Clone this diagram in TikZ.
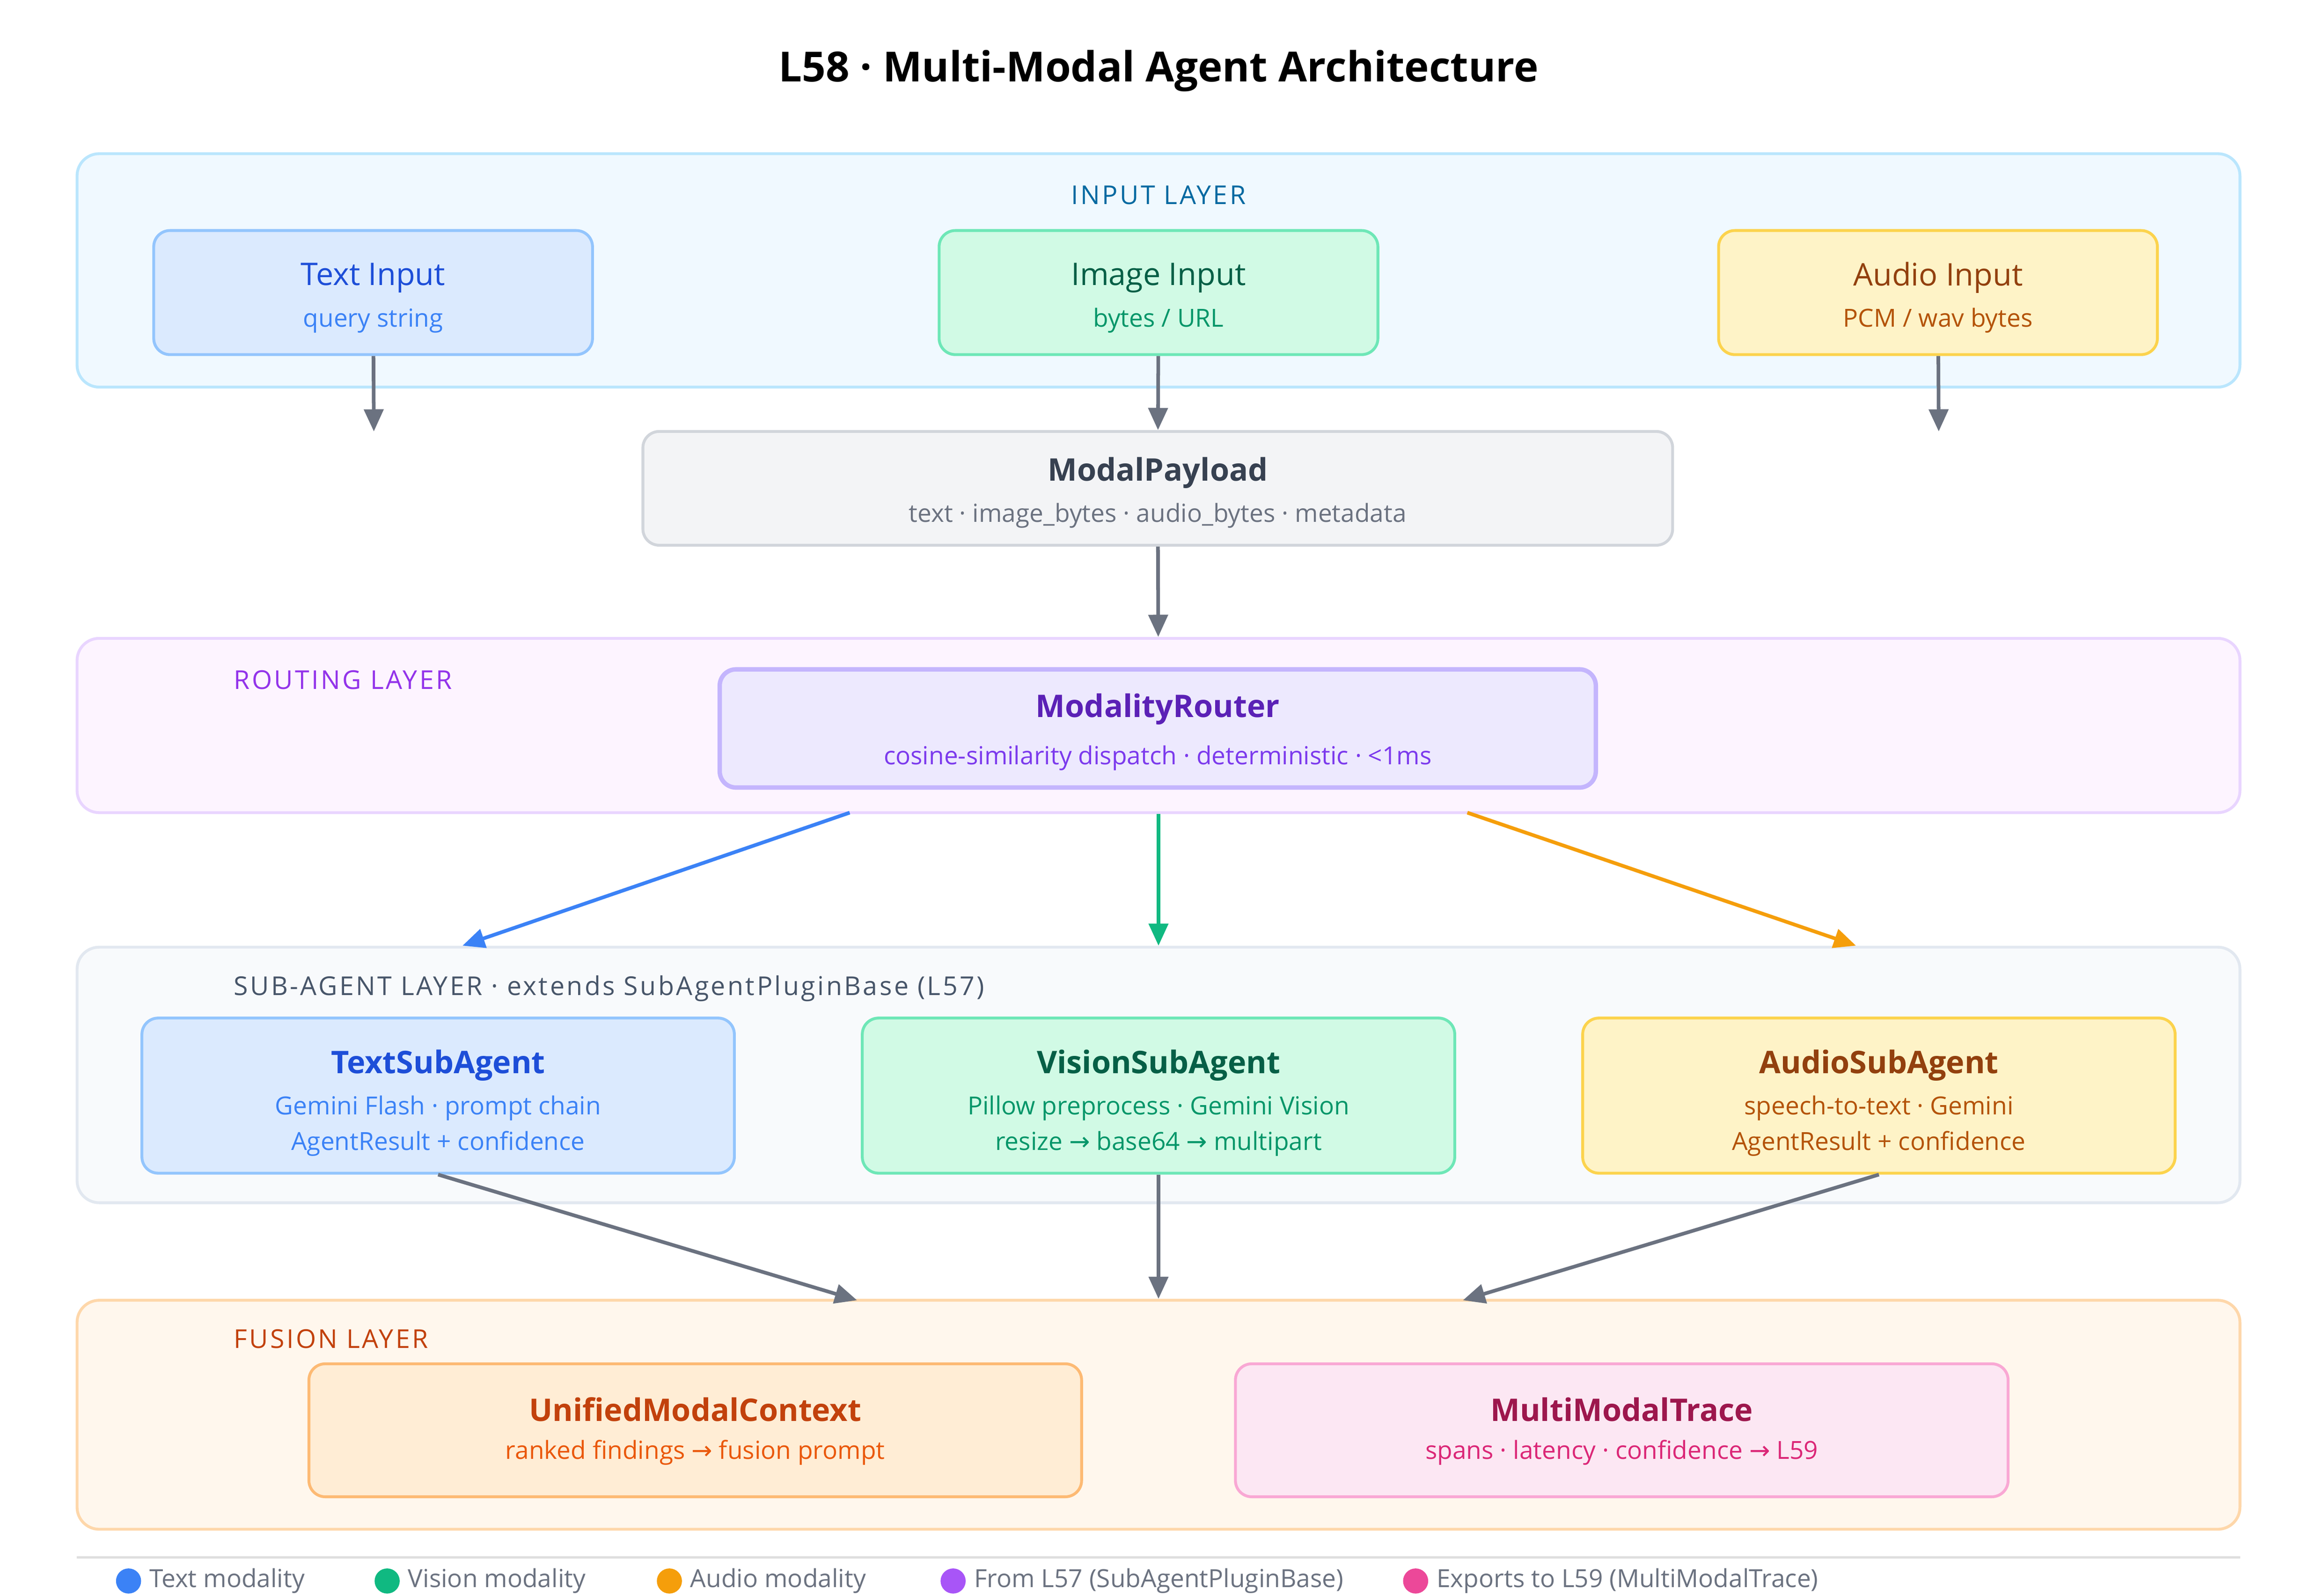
\documentclass[tikz,border=0pt]{standalone}
\usepackage{fontspec}
\setmainfont{Open Sans}
\newfontfamily\symfont{DejaVu Sans}
\usetikzlibrary{arrows.meta,positioning}
\definecolor{arrgray}{HTML}{6B7280}
\definecolor{tblue}{HTML}{3B82F6}
\definecolor{tgreen}{HTML}{10B981}
\definecolor{torange}{HTML}{F59E0B}
\definecolor{tpurple}{HTML}{A855F7}
\definecolor{tpink}{HTML}{EC4899}
\definecolor{bluefill}{HTML}{DBEAFE}\definecolor{blueline}{HTML}{93C5FD}
\definecolor{greenfill}{HTML}{D1FAE5}\definecolor{greenline}{HTML}{6EE7B7}
\definecolor{ambfill}{HTML}{FEF3C7}\definecolor{ambline}{HTML}{FCD34D}
\definecolor{bluetxt}{HTML}{1D4ED8}\definecolor{greentxt}{HTML}{065F46}
\definecolor{greensub}{HTML}{059669}\definecolor{ambtxt}{HTML}{92400E}
\definecolor{ambsub}{HTML}{B45309}
\newcommand{\ttl}[1]{\fontsize{12}{14}\selectfont\bfseries #1}
\newcommand{\sub}[1]{\fontsize{9.6}{12}\selectfont #1}
\newcommand{\lay}[1]{\fontsize{10}{12}\selectfont\addfontfeatures{LetterSpace=8}#1}
\newcommand{\rar}{{\symfont →}}
\begin{document}
\begin{tikzpicture}[x=0.02cm,y=-0.02cm]
\tikzstyle{layer}=[draw,rounded corners=0.3cm,line width=1.1pt,inner sep=0pt,minimum width=29.28cm]
\tikzstyle{box}=[draw,rounded corners=0.22cm,line width=1.1pt,inner sep=0pt]
\tikzstyle{arrow}=[line width=1.4pt,-{Triangle[length=0.3cm,width=0.26cm]}]
\useasboundingbox (0,0) rectangle (1568,1080);

\node at (784,48) (title) {\fontsize{16}{19}\selectfont\bfseries L58 · Multi-Modal Agent Architecture};

% input layer
\node [layer,fill={rgb,255:red,240;green,249;blue,255},draw={rgb,255:red,186;green,230;blue,253},minimum height=3.16cm] at (784,183) (inlayer) {};
\node [text={rgb,255:red,3;green,105;blue,161}] at (784,132) (inlabel) {\lay{INPUT LAYER}};
\node [box,fill=bluefill,draw=blueline,minimum width=5.94cm,minimum height=1.68cm] at (252.5,198) (tin) {};
\node [box,fill=greenfill,draw=greenline,minimum width=5.94cm,minimum height=1.68cm] at (784,198) (iin) {};
\node [box,fill=ambfill,draw=ambline,minimum width=5.94cm,minimum height=1.68cm] at (1311.5,198) (ain) {};
\node [text=bluetxt] at (252.5,188) {\ttl{\mdseries Text Input}};
\node [text=tblue] at (252.5,217) {\sub{query string}};
\node [text=greentxt] at (784,188) {\ttl{\mdseries Image Input}};
\node [text=greensub] at (784,217) {\sub{bytes / URL}};
\node [text=ambtxt] at (1311.5,188) {\ttl{\mdseries Audio Input}};
\node [text=ambsub] at (1311.5,217) {\sub{PCM / wav bytes}};

% payload
\node [box,fill={rgb,255:red,243;green,244;blue,246},draw={rgb,255:red,209;green,213;blue,219},minimum width=13.94cm,minimum height=1.54cm] at (783.5,330.5) (payload) {};
\node [text={rgb,255:red,55;green,65;blue,81}] at (783.5,320) {\ttl{ModalPayload}};
\node [text=arrgray] at (783.5,349) {\sub{text · image\_bytes · audio\_bytes · metadata}};
\coordinate (tend) at (253,292);
\coordinate (aend) at (1312,292);
\draw [arrow,arrgray] (tin) -- (tend);
\draw [arrow,arrgray] (iin) -- (payload);
\draw [arrow,arrgray] (ain) -- (aend);

% routing layer
\node [layer,fill={rgb,255:red,253;green,244;blue,255},draw={rgb,255:red,233;green,213;blue,255},minimum height=2.36cm] at (784,491) (routing) {};
\node [text={rgb,255:red,147;green,51;blue,234},anchor=west] at (152,460) (routlabel) {\lay{ROUTING LAYER}};
\node [box,fill={rgb,255:red,237;green,233;blue,254},draw={rgb,255:red,196;green,181;blue,253},line width=1.7pt,minimum width=11.86cm,minimum height=1.6cm] at (783.5,493) (router) {};
\node [text={rgb,255:red,91;green,33;blue,182}] at (783.5,480) {\ttl{ModalityRouter}};
\node [text={rgb,255:red,124;green,58;blue,237}] at (783.5,513) {\sub{cosine-similarity dispatch · deterministic · <1ms}};
\draw [arrow,arrgray] (payload) -- (routing);

% sub-agent layer
\node [layer,fill={rgb,255:red,248;green,250;blue,252},draw={rgb,255:red,226;green,232;blue,240},minimum height=3.46cm] at (784,727.5) (sublayer) {};
\node [text={rgb,255:red,71;green,85;blue,105},anchor=west] at (152,669) (sublabel) {\lay{SUB-AGENT LAYER · extends SubAgentPluginBase (L57)}};
\node [box,fill=bluefill,draw=blueline,minimum width=8.02cm,minimum height=2.1cm] at (296.5,741.5) (tsub) {};
\node [box,fill=greenfill,draw=greenline,minimum width=8.02cm,minimum height=2.1cm] at (784,741.5) (vsub) {};
\node [box,fill=ambfill,draw=ambline,minimum width=8.02cm,minimum height=2.1cm] at (1271.5,741.5) (asub) {};
\node [text=bluetxt] at (296.5,721) {\ttl{TextSubAgent}};
\node [text=tblue] at (296.5,750) {\sub{Gemini Flash · prompt chain}};
\node [text=tblue] at (296.5,774) {\sub{AgentResult + confidence}};
\node [text=greentxt] at (784,721) {\ttl{VisionSubAgent}};
\node [text=greensub] at (784,750) {\sub{Pillow preprocess · Gemini Vision}};
\node [text=greensub] at (784,774) {\sub{resize \rar{} base64 \rar{} multipart}};
\node [text=ambtxt] at (1271.5,721) {\ttl{AudioSubAgent}};
\node [text=ambsub] at (1271.5,750) {\sub{speech-to-text · Gemini}};
\node [text=ambsub] at (1271.5,774) {\sub{AgentResult + confidence}};

\coordinate (rl) at (575,550);
\coordinate (rr) at (993,550);
\coordinate (sl) at (313,640);
\coordinate (sr) at (1256,640);
\draw [arrow,tblue] (rl) -- (sl);
\draw [arrow,tgreen] (routing) -- (sublayer);
\draw [arrow,torange] (rr) -- (sr);

% fusion layer
\node [layer,fill={rgb,255:red,255;green,247;blue,237},draw={rgb,255:red,254;green,215;blue,170},minimum height=3.1cm] at (784,957.5) (fusion) {};
\node [text={rgb,255:red,194;green,65;blue,12},anchor=west] at (152,906) (fuslabel) {\lay{FUSION LAYER}};
\node [box,fill={rgb,255:red,255;green,237;blue,213},draw={rgb,255:red,253;green,186;blue,116},minimum width=10.46cm,minimum height=1.8cm] at (470.5,968) (umc) {};
\node [box,fill={rgb,255:red,252;green,231;blue,243},draw={rgb,255:red,249;green,168;blue,212},minimum width=10.46cm,minimum height=1.8cm] at (1097.5,968) (mmt) {};
\node [text={rgb,255:red,194;green,65;blue,12}] at (470.5,954) {\ttl{UnifiedModalContext}};
\node [text={rgb,255:red,234;green,88;blue,12}] at (470.5,983) {\sub{ranked findings \rar{} fusion prompt}};
\node [text={rgb,255:red,157;green,23;blue,77}] at (1097.5,954) {\ttl{MultiModalTrace}};
\node [text={rgb,255:red,219;green,39;blue,119}] at (1097.5,983) {\sub{spans · latency · confidence \rar{} L59}};
\coordinate (fl) at (580,880);
\coordinate (fr) at (990,880);
\draw [arrow,arrgray] (tsub.south) -- (fl);
\draw [arrow,arrgray] (vsub) -- (fusion);
\draw [arrow,arrgray] (asub.south) -- (fr);

% legend
\draw [gray!25,line width=0.8pt] (52,1054) -- (1516,1054);
\foreach \x/\c/\t in {87/tblue/Text modality,262/tgreen/Vision modality,453/torange/Audio modality,645/tpurple/From L57 (SubAgentPluginBase),958/tpink/Exports to L59 (MultiModalTrace)}{
  \fill [\c] (\x,1070) circle (0.17cm);
  \node [anchor=west,text=arrgray] at (\x+8,1070) {\sub{\t}};
}
\end{tikzpicture}
\end{document}
